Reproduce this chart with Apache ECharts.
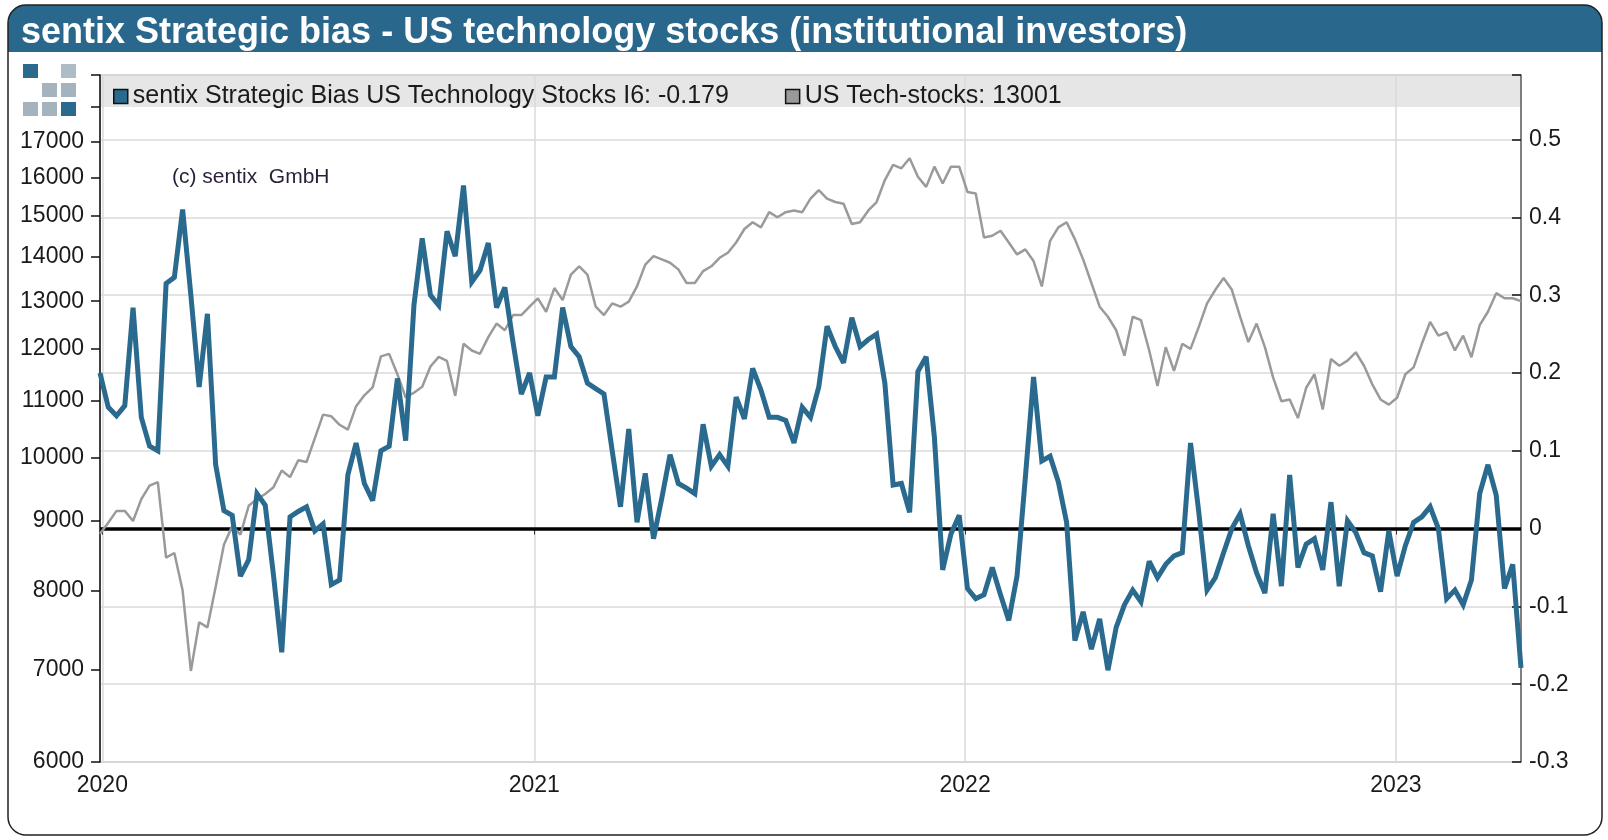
<!DOCTYPE html>
<html>
<head>
<meta charset="utf-8">
<title>sentix Strategic bias - US technology stocks</title>
<script src="https://cdn.jsdelivr.net/npm/echarts@6/dist/echarts.min.js"></script>
<style>
html, body { margin: 0; padding: 0; background: #fff; }
#chart { width: 1608px; height: 840px; }
</style>
</head>
<body>
<div id="chart"></div>
<script>
// weekly observations, first one on this Monday
const firstWeek = [2019, 11, 30]

// sentix Strategic Bias US Technology Stocks (right axis)
const biasValues = [
  0.200, 0.156, 0.145, 0.158, 0.284, 0.143, 0.106, 0.100, 0.315, 0.323,
  0.410, 0.300, 0.182, 0.276, 0.082, 0.023, 0.017, -0.061, -0.040, 0.045,
  0.030, -0.060, -0.159, 0.015, 0.022, 0.028, -0.003, 0.006, -0.072, -0.066,
  0.069, 0.110, 0.058, 0.036, 0.100, 0.106, 0.193, 0.113, 0.287, 0.373,
  0.300, 0.287, 0.382, 0.350, 0.441, 0.317, 0.332, 0.367, 0.284, 0.310,
  0.239, 0.173, 0.200, 0.145, 0.195, 0.195, 0.284, 0.234, 0.221, 0.187,
  0.180, 0.173, 0.100, 0.028, 0.128, 0.008, 0.071, -0.013, 0.039, 0.095,
  0.058, 0.052, 0.045, 0.134, 0.080, 0.095, 0.080, 0.169, 0.141, 0.206,
  0.178, 0.143, 0.143, 0.139, 0.110, 0.156, 0.143, 0.182, 0.260, 0.234,
  0.213, 0.271, 0.234, 0.243, 0.250, 0.187, 0.056, 0.058, 0.021, 0.202,
  0.221, 0.117, -0.053, -0.007, 0.017, -0.077, -0.090, -0.085, -0.050, -0.085,
  -0.118, -0.061, 0.065, 0.195, 0.087, 0.093, 0.060, 0.008, -0.144, -0.107,
  -0.155, -0.116, -0.182, -0.127, -0.098, -0.079, -0.094, -0.042, -0.063, -0.046,
  -0.035, -0.031, 0.110, 0.021, -0.079, -0.063, -0.031, 0.000, 0.019, -0.022,
  -0.057, -0.083, 0.019, -0.074, 0.069, -0.050, -0.020, -0.013, -0.053, 0.034,
  -0.074, 0.010, -0.005, -0.031, -0.035, -0.081, -0.003, -0.061, -0.022, 0.008,
  0.015, 0.028, 0.000, -0.090, -0.079, -0.098, -0.066, 0.045, 0.082, 0.043,
  -0.077, -0.046, -0.179
]

// US Tech-stocks index (left axis, log scale)
const techValues = [
  8800, 8965, 9144, 9144, 8990, 9327, 9541, 9595, 8455, 8520,
  8000, 6990, 7585, 7520, 8050, 8640, 8913, 8787, 9223, 9327,
  9407, 9515, 9786, 9677, 9955, 9926, 10327, 10747, 10717, 10565,
  10480, 10900, 11100, 11250, 11850, 11900, 11500, 11060, 11150, 11260,
  11650, 11840, 11760, 11090, 12103, 11968, 11901, 12240, 12521, 12381,
  12700, 12700, 12880, 13063, 12772, 13289, 13025, 13592, 13784, 13592,
  12880, 12700, 12952, 12880, 12989, 13326, 13823, 14020, 13944, 13866,
  13712, 13402, 13402, 13673, 13784, 13982, 14101, 14345, 14673, 14840,
  14714, 15094, 14966, 15094, 15137, 15094, 15440, 15660, 15440, 15353,
  15310, 14798, 14840, 15137, 15353, 15930, 16338, 16246, 16525, 16019,
  15748, 16292, 15836, 16292, 16292, 15616, 15572, 14467, 14508, 14632,
  14345, 14061, 14181, 13905, 13326, 14386, 14714, 14840, 14426, 13944,
  13402, 12880, 12665, 12381, 11865, 12665, 12594, 11968, 11274, 12035,
  11566, 12103, 12000, 12451, 12952, 13250, 13516, 13250, 12665, 12138,
  12521, 12035, 11436, 10990, 11024, 10685, 11242, 11500, 10838, 11798,
  11665, 11765, 11932, 11665, 11308, 11024, 10928, 11055, 11500, 11633,
  12103, 12555, 12271, 12340, 11968, 12271, 11834, 12486, 12772, 13176,
  13063, 13063, 13001
]

const yearTicks = [2020, 2021, 2022, 2023]
const leftTicks = [6000, 7000, 8000, 9000, 10000, 11000, 12000, 13000, 14000, 15000, 16000, 17000]
const leftTickMarks = [6000, 7000, 8000, 9000, 10000, 11000, 12000, 13000, 14000, 15000, 16000, 17000, 18000, 19000]

const biasName = 'sentix Strategic Bias US Technology Stocks I6'
const techName = 'US Tech-stocks'
const blue = '#2a6a8e'
const grey = '#9a9a9a'
const gridColor = '#dadada'
const font = 'Liberation Sans, Arial, sans-serif'

// x positions are UTC timestamps on a plain value axis
const weekTimes = biasValues.map((v, i) => Date.UTC(firstWeek[0], firstWeek[1], firstWeek[2] + 7 * i))
const yearTimes = yearTicks.map(y => Date.UTC(y, 0, 1))

const lastBias = biasValues[biasValues.length - 1]
const lastTech = techValues[techValues.length - 1]

const chart = echarts.init(document.getElementById('chart'))

// sentix logo squares (col, row, colour)
const logo = [
  [0, 0, blue], [2, 0, '#aebcc6'],
  [1, 1, '#a4b3bd'], [2, 1, '#a4b3bd'],
  [0, 2, '#a4b3bd'], [1, 2, '#a4b3bd'], [2, 2, blue]
]

chart.setOption({
  animation: false,
  backgroundColor: '#fff',
  title: {
    text: 'sentix Strategic bias - US technology stocks (institutional investors)',
    left: 16,
    top: 10,
    textStyle: { color: '#fff', fontSize: 36, fontWeight: 'bold', fontFamily: font }
  },
  legend: {
    left: 108,
    top: 79,
    icon: 'rect',
    itemWidth: 14,
    itemHeight: 14,
    itemGap: 56,
    itemStyle: { borderColor: '#111', borderWidth: 1.5 },
    textStyle: { fontSize: 25, color: '#1a1a1a', fontFamily: font },
    formatter: function(name) {
      return name === biasName ? name + ': ' + lastBias : name + ': ' + lastTech
    },
    data: [biasName, techName]
  },
  grid: {
    left: 100,
    right: 87,
    top: 75,
    bottom: 78,
    show: true,
    borderColor: '#9a9a9a',
    borderWidth: 1
  },
  graphic: [
    {
      type: 'rect', z: -10,
      shape: { x: 100, y: 75, width: 1421, height: 32 },
      style: { fill: '#e6e6e6' }
    },
    {
      type: 'rect', z: -10,
      shape: { x: 8, y: 5, width: 1594, height: 47, r: [18, 18, 0, 0] },
      style: { fill: '#29688c' }
    },
    {
      type: 'rect', z: -10,
      shape: { x: 8, y: 5, width: 1594, height: 830, r: 18 },
      style: { fill: 'none', stroke: '#222', lineWidth: 1.5 }
    },
    {
      type: 'text', left: 172, top: 167,
      style: { text: '(c) sentix  GmbH', fill: '#2a1f38', font: '21px ' + font }
    }
  ].concat(logo.map(function(s) {
    return {
      type: 'rect',
      shape: { x: 23 + s[0] * 19, y: 64 + s[1] * 19, width: 15, height: 14 },
      style: { fill: s[2] }
    }
  })),
  xAxis: {
    type: 'value',
    min: weekTimes[0],
    max: weekTimes[weekTimes.length - 1],
    axisLine: { lineStyle: { color: '#666', width: 1.5 } },
    axisTick: { customValues: yearTimes, length: 6, lineStyle: { color: '#333' } },
    axisLabel: {
      customValues: yearTimes,
      formatter: function(v) { return String(new Date(v).getUTCFullYear()) },
      color: '#1a1a1a', fontSize: 23, fontFamily: font, margin: 12
    },
    splitLine: { show: true, lineStyle: { color: gridColor, width: 1.5 } }
  },
  yAxis: [
    {
      type: 'value',
      position: 'left',
      min: Math.log(6000),
      max: Math.log(19000),
      axisLine: { show: true, lineStyle: { color: '#111', width: 1.5 } },
      axisTick: { show: true, customValues: leftTickMarks.map(Math.log), length: 9, lineStyle: { color: '#111', width: 1.5 } },
      axisLabel: {
        customValues: leftTicks.map(Math.log),
        formatter: function(v) { return String(Math.round(Math.exp(v))) },
        color: '#1a1a1a', fontSize: 23, fontFamily: font, margin: 16
      },
      splitLine: { show: false }
    },
    {
      type: 'value',
      position: 'right',
      min: -0.3,
      max: 0.583,
      interval: 0.1,
      axisLine: { show: true, lineStyle: { color: '#666', width: 1.5 } },
      axisTick: { show: true, inside: true, length: 9, lineStyle: { color: '#111', width: 1.5 } },
      axisLabel: {
        formatter: function(v) { return v > 0.55 ? '' : String(v) },
        color: '#1a1a1a', fontSize: 23, fontFamily: font, margin: 8
      },
      splitLine: { show: true, lineStyle: { color: gridColor, width: 1.5 } }
    }
  ],
  series: [
    {
      name: techName,
      type: 'line',
      yAxisIndex: 0,
      z: 2,
      color: grey,
      showSymbol: false,
      data: weekTimes.map((t, i) => [t, Math.log(techValues[i])]),
      lineStyle: { color: grey, width: 2.5 }
    },
    {
      name: biasName,
      type: 'line',
      yAxisIndex: 1,
      z: 3,
      color: blue,
      showSymbol: false,
      data: weekTimes.map((t, i) => [t, biasValues[i]]),
      lineStyle: { color: blue, width: 5, join: 'miter', miterLimit: 3 },
      markLine: {
        silent: true,
        z: 2,
        symbol: 'none',
        label: { show: false },
        lineStyle: { color: '#000', width: 3.5, type: 'solid' },
        data: [{ yAxis: 0 }]
      }
    }
  ]
})
</script>
</body>
</html>
